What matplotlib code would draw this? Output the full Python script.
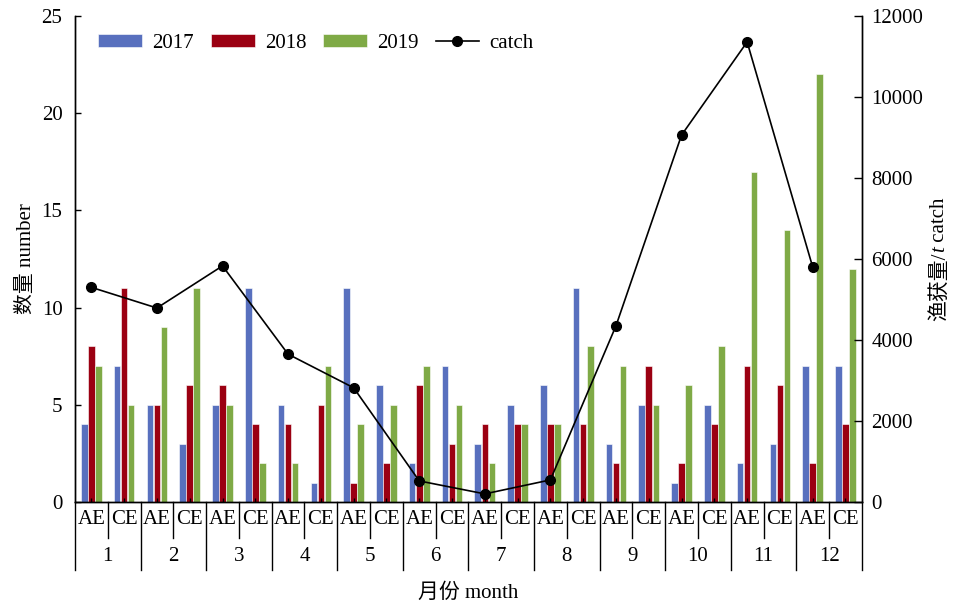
#catch and count by month, AE / CE, with annual catch on a twin axis

import numpy as np
import matplotlib
matplotlib.use('Agg')
import matplotlib.pyplot as plt

plt.rcParams['font.family'] = ['Liberation Serif', 'Noto Sans CJK SC']

months = ['1', '2', '3', '4', '5', '6', '7', '8', '9', '10', '11', '12']
types = ['AE', 'CE']
years = ['2017', '2018', '2019']

#counts, ordered month1 AE, month1 CE, month2 AE, ...
n2017 = [4, 7, 5, 3, 5, 11, 5, 1, 11, 6, 2, 7, 3, 5, 6, 11, 3, 5, 1, 5, 2, 3, 7, 7]
n2018 = [8, 11, 5, 6, 6, 4, 4, 5, 1, 2, 6, 3, 4, 4, 4, 4, 2, 7, 2, 4, 7, 6, 2, 4]
n2019 = [7, 5, 9, 11, 5, 2, 2, 7, 4, 5, 7, 5, 2, 4, 4, 8, 7, 5, 6, 8, 17, 14, 22, 12]
catch = [5300, 4790, 5830, 3650, 2820, 520, 200, 545, 4350, 9060, 11360, 5800]

colors = ['#5870BE', '#9B0012', '#7FAA46']
fs = 15

x = np.arange(len(n2017))
w = 0.2 #bar width
step = 0.215

fig = plt.figure(figsize=(9.55, 6.07), dpi=100)
ax = fig.add_axes([0.0785, 0.173, 0.824, 0.8006])
ax2 = ax.twinx()

for i, vals in enumerate([n2017, n2018, n2019]):
    ax.bar(x + (i - 1) * step, vals, w, color=colors[i], edgecolor='white',
           linewidth=0.4, label=years[i])

xa = x[::2] #catch plotted at the AE position of each month
ax2.plot(xa, catch, color='black', lw=1.2, marker='o', ms=7, label='catch')

ax.set_xlim(-0.5, len(x) - 0.5)
ax.set_ylim(0, 25)
ax.set_yticks(np.arange(0, 26, 5))
ax2.set_ylim(0, 12000)
ax2.set_yticks(np.arange(0, 12001, 2000))

ax.set_xticks(x)
ax.set_xticklabels([])
ax.tick_params(axis='x', direction='in', length=3, width=1)
ax.tick_params(axis='y', direction='in', length=4, width=1, labelsize=fs, pad=9)
ax2.tick_params(axis='y', direction='in', length=6, width=1, labelsize=fs, pad=7)

for a in (ax, ax2):
    a.spines['top'].set_visible(False)
    for s in ['left', 'right', 'bottom']:
        a.spines[s].set_linewidth(1)

#two level category labels under the axis
tr = ax.get_xaxis_transform()
for k in x:
    ax.text(k, -0.037, types[k % 2], transform=tr, ha='center', va='center', fontsize=fs)
for m, lab in enumerate(months):
    ax.text(2 * m + 0.5, -0.112, lab, transform=tr, ha='center', va='center', fontsize=fs)
for b in np.arange(-0.5, len(x), 1.0):
    low = -0.14 if int(b + 0.5) % 2 == 0 else -0.074
    ax.plot([b, b], [0, low], transform=tr, color='black', lw=1, clip_on=False)

ax.set_ylabel('数量 number', fontsize=fs, labelpad=4)
ax.text(0.5, -0.188, '月份 month', transform=ax.transAxes, ha='center', va='center', fontsize=fs)

#right label in three pieces so the t can be italic, centred on the axis
xr = 0.984
parts = [('渔获量/', 'normal'), ('t', 'italic'), (' catch', 'normal')]
texts = [fig.text(xr, 0, s, rotation=90, ha='center', va='bottom', fontsize=fs, style=st)
         for s, st in parts]
r = fig.canvas.get_renderer()
H = fig.bbox.height
hs = [t.get_window_extent(r).height for t in texts]
y0 = (0.173 + 0.8006 / 2) * H - sum(hs) / 2
for t, h in zip(texts, hs):
    t.set_position((xr, y0 / H))
    y0 += h

h1, l1 = ax.get_legend_handles_labels()
h2, l2 = ax2.get_legend_handles_labels()
ax.legend(h1 + h2, l1 + l2, loc='center left', bbox_to_anchor=(0.006, 0.944), ncol=4,
          frameon=False, fontsize=fs, handlelength=2.1, handletextpad=0.5,
          columnspacing=0.8, handleheight=0.6)

fig.savefig('out.png', dpi=100)
